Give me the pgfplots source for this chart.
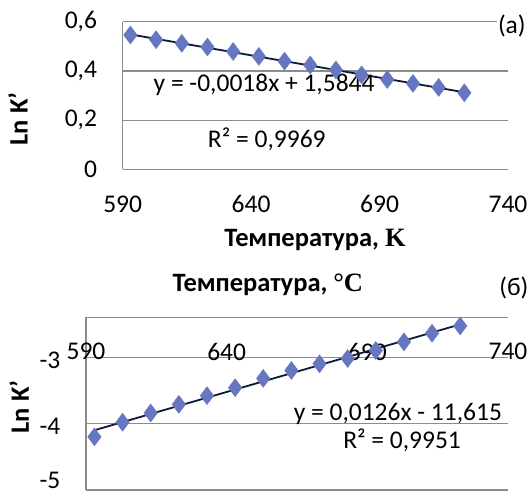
\documentclass[border=0pt]{standalone}
\usepackage{fontspec}
\setmainfont{Carlito}
\newfontfamily\tnr{Liberation Serif}
\usepackage{pgfplots}
\usepackage{pgfplotstable}
\pgfplotsset{compat=1.18}

\definecolor{gridgray}{HTML}{8C8C8C}
\definecolor{markblue}{HTML}{6676C0}
\definecolor{trendnavy}{HTML}{101838}
\newcommand\fs{\fontsize{25.5pt}{27pt}\selectfont}
\newcommand\fl{\fontsize{26.5pt}{28pt}\selectfont}

% ln K' vs temperature (K)
\pgfplotstableread{
T   lnK
593 0.546
603 0.527
613 0.512
623 0.497
633 0.479
643 0.459
653 0.440
663 0.424
673 0.404
683 0.384
693 0.365
703 0.349
713 0.333
723 0.311
}\dataA

\pgfplotstableread{
T   lnK
593 -4.20
603 -3.98
613 -3.84
623 -3.71
633 -3.58
643 -3.46
653 -3.32
663 -3.20
673 -3.10
683 -3.02
693 -2.90
703 -2.77
713 -2.64
723 -2.53
}\dataB

\pgfplotsset{
  excel/.style={
    scale only axis, clip=false,
    xmin=590, xmax=740, xtick={590,640,690,740},
    major tick length=0pt,
    axis y line*=left,
    ymajorgrids,
    major grid style={draw=gridgray, line width=1.2pt},
    axis line style={draw=gridgray, line width=1.2pt},
    tick label style={font=\fs},
    /pgf/number format/assume math mode=true,
    /pgf/number format/use comma,
    yticklabel style={anchor=east, inner sep=0pt, xshift=-25.5pt,
      /pgf/number format/fixed, /pgf/number format/precision=1,
      /pgf/number format/use comma},
    label style={font=\fl\bfseries},
  },
  pts/.style={only marks, mark=diamond*, mark size=9pt,
    mark options={fill=markblue, draw=markblue}},
  trend/.style={no marks, draw=trendnavy, line width=1.8pt},
}

\begin{document}
\begin{tikzpicture}[x=1pt,y=1pt]
\path[use as bounding box] (0,0) rectangle (532,498);

% (a)
\begin{axis}[excel,
  at={(122.7pt,328.7pt)}, anchor=south west,
  width=385.3pt, height=147.6pt,
  ymin=0, ymax=0.6, ytick={0,0.2,0.4,0.6},
  axis x line*=bottom,
  xticklabel style={anchor=center, yshift=-35pt},
  xlabel={Температура, {\tnr\bfseries K}},
  xlabel style={at={(axis description cs:0.499,-0.479)}, anchor=center},
  ylabel={Ln K'},
  ylabel style={at={(axis description cs:-0.272,0.341)}, anchor=center},
]
\addplot[pts] table[x=T, y=lnK] {\dataA};
\addplot[trend] table[x=T, y={create col/linear regression={y=lnK}}] {\dataA};
\node[font=\fs] at (axis description cs:0.367,0.575) {y = -0,0018x + 1,5844};
\node[font=\fs] at (axis description cs:0.374,0.202) {R² = 0,9969};
\node[font=\fs, fill=white, inner sep=1pt] at (axis description cs:1.010,0.971) {(a)};
\end{axis}

% (b)
\begin{axis}[excel,
  at={(86pt,8pt)}, anchor=south west,
  width=422pt, height=172.7pt,
  ymin=-5, ymax=-2.4, ytick={-5,-4,-3},
  yticklabels={\raisebox{26pt}{-5},-4,-3},
  yticklabel style={yshift=-3pt},
  axis x line*=top,
  xticklabel style={anchor=center, yshift=-34.2pt},
  ylabel={Ln K'},
  ylabel style={at={(axis description cs:-0.158,0.481)}, anchor=center},
]
\addplot[pts] table[x=T, y=lnK] {\dataB};
\addplot[trend] table[x=T, y={create col/linear regression={y=lnK}}] {\dataB};
\node[font=\fs] at (axis description cs:0.739,0.443) {y = 0,0126x - 11,615};
\node[font=\fs] at (axis description cs:0.749,0.290) {R² = 0,9951};
\node[font=\fl\bfseries] at (axis description cs:0.431,1.187) {Температура, {\tnr\bfseries °C}};
\node[font=\fs] at (axis description cs:1.014,1.170) {(б)};
\end{axis}
\end{tikzpicture}
\end{document}
